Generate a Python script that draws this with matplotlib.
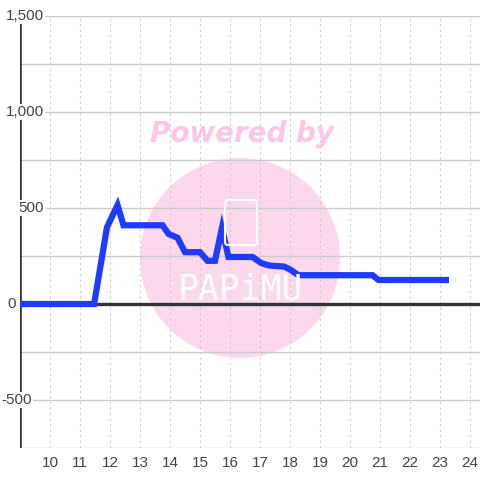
import matplotlib
matplotlib.use("Agg")
import matplotlib.pyplot as plt
from matplotlib.patches import Circle, FancyBboxPatch
from matplotlib.transforms import blended_transform_factory

# ---- data ----
hours = [9.0, 11.47, 11.9, 12.25, 12.45, 13.75, 13.95, 14.25, 14.5, 15.0, 15.25, 15.5,
         15.73, 15.95, 16.75, 17.05, 17.33, 17.8, 18.0, 18.28, 20.75, 20.95, 23.3]
values = [0, 0, 400, 515, 410, 410, 365, 345, 270, 270, 225, 225,
          395, 245, 245, 212, 200, 195, 180, 150, 150, 125, 125]
x_ticks = list(range(10, 25))
y_ticks = [-500, 0, 500, 1000, 1500]
y_tick_labels = ["-500", "0", "500", "1,000", "1,500"]
y_grid = [-750, -500, -250, 0, 250, 500, 750, 1000, 1250, 1500]

plt.rcParams['font.family'] = ['Liberation Sans', 'DejaVu Sans']

fig = plt.figure(figsize=(4.8, 4.8), dpi=100)
fig.patch.set_facecolor('white')
ax = fig.add_axes([20/480, 32/480, 460/480, 432/480])
ax.set_xlim(9, 9 + 460/30)
ax.set_ylim(-750, 1500)
ax.set_facecolor('white')
for s in ax.spines.values():
    s.set_visible(False)

# grid
for g in y_grid:
    ax.axhline(g, color='#cccccc', lw=1.0, zorder=1)
for xt in x_ticks:
    ax.axvline(xt, color='#cfcfcf', lw=0.8, ls=(0, (2, 3)), zorder=1)

# watermark
circ = Circle((240/480, (480-258)/480), 100/480, transform=fig.transFigure,
              facecolor='#fbcfe8', alpha=0.8, edgecolor='none', zorder=0.5)
ax.add_artist(circ)
fig.text(242/480, (480-134)/480, "Powered by", color='#fac8e6',
         fontsize=20, fontweight='bold', style='italic', family='DejaVu Sans',
         ha='center', va='center', zorder=2)
fig.text(240/480, (480-289)/480, "PAPiMU", color='white', fontsize=25,
         family='DejaVu Sans Mono', fontweight='light', ha='center', va='center', zorder=2)
ph = FancyBboxPatch((225/480, (480-245)/480), 32/480, 45/480, boxstyle='round,pad=0,rounding_size=0.006',
                    transform=fig.transFigure, facecolor='none', edgecolor='white', lw=1.5, zorder=2)
fig.add_artist(ph)

# axes lines
ax.axhline(0, color='#333333', lw=2.4, zorder=3)
ax.axvline(9, color='#333333', lw=2.6, zorder=3)

# data line
ax.plot(hours, values, color='#1f3bff', lw=4.5, solid_joinstyle='miter',
        solid_capstyle='butt', zorder=4)

# ticks
ax.set_xticks(x_ticks)
ax.set_xticklabels([str(t) for t in x_ticks])
ax.set_yticks([])
ax.tick_params(axis='x', length=0, pad=6, labelsize=11, labelcolor='#444444')

label_x = {"-500": 16.5, "0": 12, "500": 31.5, "1,000": 25, "1,500": 25}
trans = blended_transform_factory(fig.transFigure, ax.transData)
for v, lab in zip(y_ticks, y_tick_labels):
    ax.text(label_x[lab]/480, v, lab, transform=trans,
            ha='center', va='center', fontsize=11, color='#444444', zorder=5,
            bbox=dict(facecolor='white', edgecolor='none', pad=1.0))

fig.savefig("out.png", dpi=100)
